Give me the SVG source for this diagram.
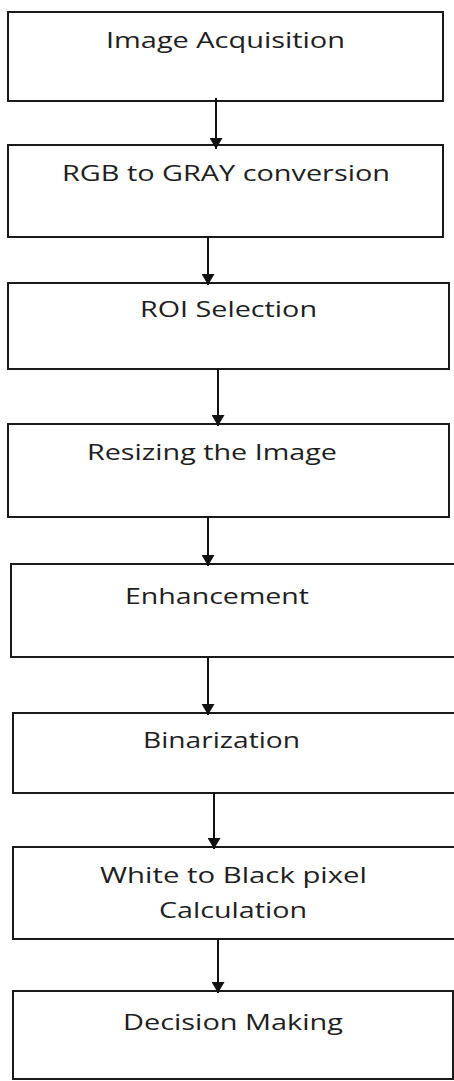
<svg xmlns="http://www.w3.org/2000/svg" width="454" height="1081" viewBox="0 0 454 1081">
<defs>
<style>
.box{fill:#fff;stroke:#1a1a1a;stroke-width:2}
.lbl{font-family:"Open Sans","Noto Sans",sans-serif;font-size:21px;fill:#1e1e1e}
.conn{stroke:#111;stroke-width:2;fill:none}
</style>
<marker id="ah" viewBox="0 0 11 13" refX="11" refY="6.5" markerWidth="11" markerHeight="13" markerUnits="userSpaceOnUse" orient="auto">
<path d="M0,0 L11,6.5 L0,13 Z" fill="#111"/>
</marker>
</defs>
<rect width="454" height="1081" fill="#fff"/>
<g id="n1"><rect class="box" x="8" y="12" width="435" height="89"/><text class="lbl" x="106" y="48" textLength="239" lengthAdjust="spacingAndGlyphs">Image Acquisition</text></g>
<g id="n2"><rect class="box" x="8" y="145" width="435" height="92"/><text class="lbl" x="62" y="181" textLength="328" lengthAdjust="spacingAndGlyphs">RGB to GRAY conversion</text></g>
<g id="n3"><rect class="box" x="8" y="283" width="441" height="86"/><text class="lbl" x="140" y="317" textLength="177" lengthAdjust="spacingAndGlyphs">ROI Selection</text></g>
<g id="n4"><rect class="box" x="8" y="424" width="441" height="93"/><text class="lbl" x="87" y="460" textLength="250" lengthAdjust="spacingAndGlyphs">Resizing the Image</text></g>
<g id="n5"><rect class="box" x="11" y="564" width="450" height="93"/><text class="lbl" x="125" y="604" textLength="184" lengthAdjust="spacingAndGlyphs">Enhancement</text></g>
<g id="n6"><rect class="box" x="13" y="713" width="450" height="80"/><text class="lbl" x="143" y="748" textLength="157" lengthAdjust="spacingAndGlyphs">Binarization</text></g>
<g id="n7"><rect class="box" x="13" y="847" width="450" height="92"/><text class="lbl" x="100" y="883" textLength="267" lengthAdjust="spacingAndGlyphs">White to Black pixel</text><text class="lbl" x="159" y="918" textLength="148" lengthAdjust="spacingAndGlyphs">Calculation</text></g>
<g id="n8"><rect class="box" x="13" y="991" width="440" height="88"/><text class="lbl" x="123" y="1030" textLength="220" lengthAdjust="spacingAndGlyphs">Decision Making</text></g>
<g id="connectors">
<line class="conn" x1="216" y1="98" x2="216" y2="149" marker-end="url(#ah)"/>
<line class="conn" x1="208" y1="237" x2="208" y2="285" marker-end="url(#ah)"/>
<line class="conn" x1="218" y1="369" x2="218" y2="426" marker-end="url(#ah)"/>
<line class="conn" x1="208" y1="517" x2="208" y2="566" marker-end="url(#ah)"/>
<line class="conn" x1="208" y1="657" x2="208" y2="715" marker-end="url(#ah)"/>
<line class="conn" x1="214" y1="793" x2="214" y2="849" marker-end="url(#ah)"/>
<line class="conn" x1="218" y1="939" x2="218" y2="993" marker-end="url(#ah)"/>
</g>
</svg>
